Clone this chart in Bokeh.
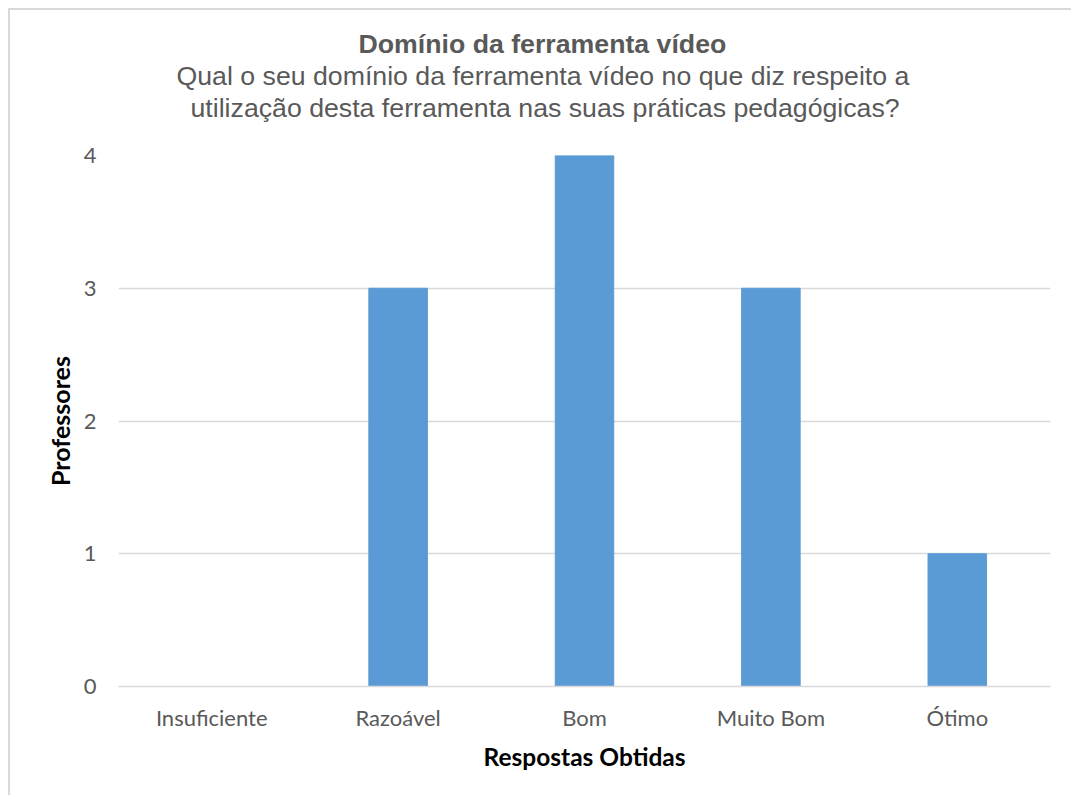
from bokeh.plotting import figure
from bokeh.models import Title, FactorRange
from bokeh.embed import file_html
from bokeh.resources import INLINE

categories = ["Insuficiente", "Razoável", "Bom", "Muito Bom", "Ótimo"]
professores = [0, 3, 4, 3, 1]
y_ticks = [0, 1, 2, 3, 4]

title_main = "Domínio da ferramenta vídeo"
subtitle_1 = "Qual o seu domínio da ferramenta vídeo no que diz respeito a"
subtitle_2 = "utilização desta ferramenta nas suas práticas pedagógicas?"
x_label = "Respostas Obtidas"
y_label = "Professores"

p = figure(
    x_range=FactorRange(*categories, range_padding=0),
    y_range=(0, 4),
    width=1063, height=787,
    output_backend="svg", toolbar_location=None, title=None,
    min_border_left=108, min_border_right=23, min_border_top=145, min_border_bottom=111,
)
p.styles = {"margin-left": "8px", "margin-top": "8px",
            "border-top": "2px solid #d9d9d9", "border-left": "2px solid #d9d9d9"}

p.vbar(x=categories, top=professores, width=0.314, color="#5B9BD5", line_color="#5B9BD5")

p.outline_line_color = None
p.xgrid.grid_line_color = None
p.ygrid.grid_line_color = "#d9d9d9"
p.ygrid.grid_line_width = 1.3

p.yaxis.ticker = y_ticks
p.yaxis.axis_line_color = None
p.yaxis.major_tick_line_color = None
p.yaxis.minor_tick_line_color = None
p.yaxis.major_label_text_font = "Lato"
p.yaxis.major_label_text_font_size = "22px"
p.yaxis.major_label_text_color = "#595959"
p.yaxis.major_label_standoff = 16
p.yaxis.axis_label = y_label
p.yaxis.axis_label_text_font = "Lato"
p.yaxis.axis_label_text_font_style = "bold"
p.yaxis.axis_label_text_font_size = "25px"
p.yaxis.axis_label_text_color = "#000000"
p.yaxis.axis_label_standoff = 6

p.xaxis.axis_line_color = "#d9d9d9"
p.xaxis.axis_line_width = 1.3
p.xaxis.major_tick_line_color = None
p.xaxis.minor_tick_line_color = None
p.xaxis.major_label_text_font = "Lato"
p.xaxis.major_label_text_font_size = "22px"
p.xaxis.major_label_text_color = "#595959"
p.xaxis.major_label_standoff = 11
p.xaxis.axis_label = x_label
p.xaxis.axis_label_text_font = "Lato"
p.xaxis.axis_label_text_font_style = "bold"
p.xaxis.axis_label_text_font_size = "24.5px"
p.xaxis.axis_label_text_color = "#000000"
p.xaxis.axis_label_standoff = 8

# spacer between plot area and the title block
p.add_layout(Title(text=" ", text_font_size="20px", standoff=9), "above")
p.add_layout(Title(text=subtitle_2, align="left", offset=72, text_font="Liberation Sans",
                   text_font_size="26.7px", text_font_style="normal", text_color="#595959",
                   standoff=0), "above")
p.add_layout(Title(text=subtitle_1, align="left", offset=58, text_font="Liberation Sans",
                   text_font_size="26.7px", text_font_style="normal", text_color="#595959",
                   standoff=0), "above")
p.add_layout(Title(text=title_main, align="left", offset=240, text_font="Liberation Sans",
                   text_font_size="26.7px", text_font_style="bold", text_color="#595959",
                   standoff=0), "above")

open("out.html", "w").write(file_html(p, INLINE))
